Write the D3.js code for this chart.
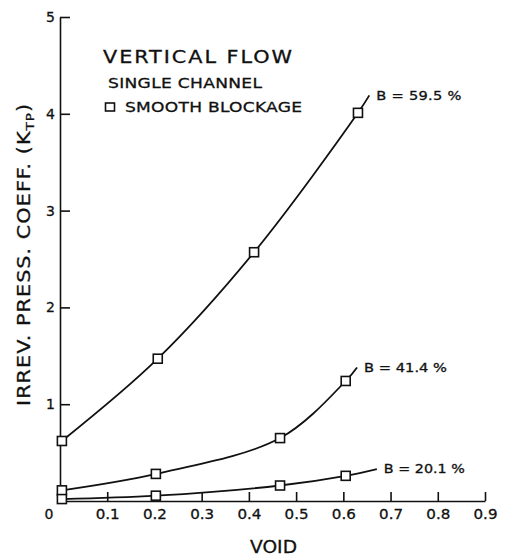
<!DOCTYPE html>
<html>
<head>
<meta charset="utf-8">
<script src="https://cdn.jsdelivr.net/npm/d3@7"></script>
<style>
  html, body { margin: 0; padding: 0; background: #fff; }
  svg { display: block; }
  text { font-family: "DejaVu Sans", "Liberation Sans", sans-serif; fill: #111; stroke: #111; stroke-width: 0.3px; }
</style>
</head>
<body>
<svg id="chart" width="506" height="556"></svg>
<script>
// Irreversible pressure coefficient vs. void fraction, vertical flow, single channel
const xTickValues = [0.1, 0.2, 0.3, 0.4, 0.5, 0.6, 0.7, 0.8, 0.9];
const yTickValues = [1, 2, 3, 4, 5];

const seriesLabels = ["B = 59.5 %", "B = 41.4 %", "B = 20.1 %"];

// measured points (void, K_TP)
const void595 = [0.004, 0.207, 0.411, 0.631];
const k595    = [0.62, 1.47, 2.57, 4.01];
const void414 = [0.004, 0.203, 0.466, 0.605];
const k414    = [0.11, 0.28, 0.65, 1.24];
const void201 = [0.004, 0.203, 0.466, 0.605];
const k201    = [0.02, 0.055, 0.16, 0.26];

// where each faired curve stops (void, K_TP)
const curveEnd595 = [0.655, 4.19];
const curveEnd414 = [0.629, 1.38];
const curveEnd201 = [0.671, 0.33];

const svg = d3.select("#chart");

const x = d3.scaleLinear().domain([0, 0.9]).range([60, 485]);
const y = d3.scaleLinear().domain([0, 5]).range([501, 17]);

// make a text span w pixels: widen glyphs a little, then open up the spacing
function stretch(text, w) {
  const len = text.node().getComputedTextLength();
  const s = Math.min(w / len, 1.22);
  const ax = +text.attr("x") || 0;
  text.attr("textLength", w / s).attr("lengthAdjust", "spacing")
    .attr("transform", `translate(${ax},0) scale(${s},1) translate(${-ax},0)`);
  return text;
}

// axes with inward ticks
const gx = svg.append("g").attr("transform", `translate(0,${y(0)})`)
  .call(d3.axisBottom(x).tickValues(xTickValues).tickSizeInner(-9).tickSizeOuter(0)
        .tickPadding(8).tickFormat(d3.format(".1f")));
const gy = svg.append("g").attr("transform", `translate(${x(0)},0)`)
  .call(d3.axisLeft(y).tickValues(yTickValues).tickSizeInner(-10).tickSizeOuter(0)
        .tickPadding(5).tickFormat(d3.format("d")));

[gx, gy].forEach(g => {
  g.select(".domain").attr("stroke", "#111").attr("stroke-width", 1.6);
  g.selectAll(".tick line").attr("stroke", "#111").attr("stroke-width", 1.6);
  g.selectAll(".tick text").attr("font-size", 14).attr("fill", "#111");
});
gx.selectAll(".tick text").each(function () {
  const len = this.getComputedTextLength();
  d3.select(this).attr("transform", `scale(${24 / len},1)`);
});

// shared origin label
svg.append("text").attr("x", x(0) - 11).attr("y", y(0) + 8).attr("dy", "0.71em")
  .attr("text-anchor", "middle").attr("font-size", 14).text("0");

// axis titles
stretch(svg.append("text").attr("x", 250).attr("y", 553).attr("font-size", 17).text("VOID"), 47);

const yTitleG = svg.append("g").attr("transform", "translate(30,406) rotate(-90)");
const yTitle = yTitleG.append("text").attr("x", 0).attr("y", 0).attr("font-size", 17);
yTitle.append("tspan").text("IRREV. PRESS. COEFF. (K");
yTitle.append("tspan").attr("font-size", 11).attr("dy", 4).text("TP");
yTitle.append("tspan").attr("dy", -4).text(")");
stretch(yTitle, 302);

// legend block
stretch(svg.append("text").attr("x", 103).attr("y", 63).attr("font-size", 17).text("VERTICAL FLOW"), 189);
stretch(svg.append("text").attr("x", 108).attr("y", 88).attr("font-size", 14).text("SINGLE CHANNEL"), 154);
svg.append("rect").attr("x", 105.5).attr("y", 103).attr("width", 9).attr("height", 8)
  .attr("fill", "#fff").attr("stroke", "#111").attr("stroke-width", 1.6);
stretch(svg.append("text").attr("x", 125).attr("y", 112).attr("font-size", 14).text("SMOOTH BLOCKAGE"), 177);

// curves and markers
const series = [
  { xs: void595, ks: k595, end: curveEnd595, label: seriesLabels[0], lw: 85 },
  { xs: void414, ks: k414, end: curveEnd414, label: seriesLabels[1], lw: 83 },
  { xs: void201, ks: k201, end: curveEnd201, label: seriesLabels[2], lw: 81 }
];

const line = d3.line().x(d => x(d[0])).y(d => y(d[1])).curve(d3.curveCatmullRom.alpha(0.5));

series.forEach(s => {
  const pts = s.xs.map((v, i) => [v, s.ks[i]]);
  svg.append("path").datum(pts.concat([s.end]))
    .attr("d", line).attr("fill", "none").attr("stroke", "#111").attr("stroke-width", 1.8);
  svg.selectAll(null).data(pts).enter().append("rect")
    .attr("x", d => x(d[0]) - 4.5).attr("y", d => y(d[1]) - 4.5)
    .attr("width", 9).attr("height", 9)
    .attr("fill", "#fff").attr("stroke", "#111").attr("stroke-width", 1.6);
  stretch(svg.append("text").attr("x", x(s.end[0]) + 7).attr("y", y(s.end[1]))
    .attr("dy", "0.36em").attr("font-size", 12).text(s.label), s.lw);
});
</script>
</body>
</html>
